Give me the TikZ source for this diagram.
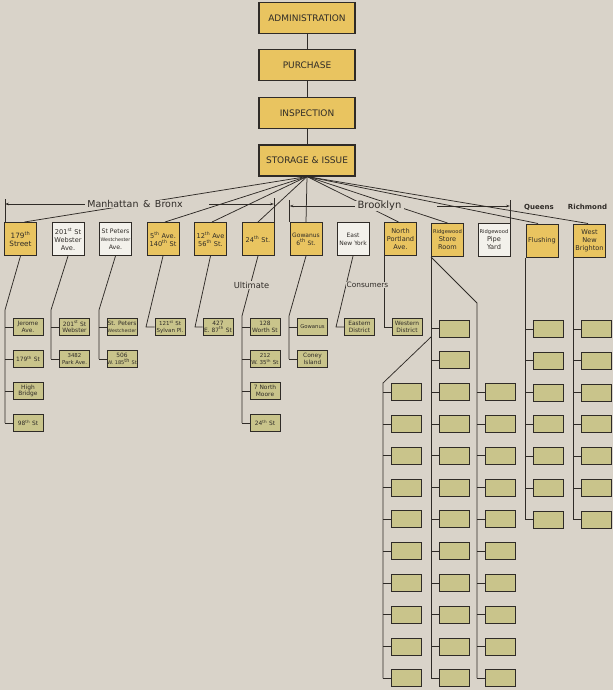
\documentclass[tikz,border=0pt]{standalone}
\usepackage{fontspec}
\setmainfont{DejaVu Sans}
\usetikzlibrary{arrows.meta,calc}
\definecolor{paper}{HTML}{D9D3C9}
\definecolor{ybox}{HTML}{E9C460}
\definecolor{kbox}{HTML}{C9C48B}
\definecolor{wbox}{HTML}{F3F1EB}
\definecolor{ink}{HTML}{2F2B27}
\pgfdeclarelayer{paperlayer}
\pgfdeclarelayer{linelayer}
\pgfsetlayers{paperlayer,linelayer,main}
\tikzset{
  topbox/.style={draw=ink, line width=1.1pt, fill=ybox, minimum width=96pt, minimum height=31pt, inner sep=0pt, text=ink, font=\fontsize{9}{10}\selectfont},
  rowbox/.style={draw=ink, line width=1pt, minimum width=32pt, minimum height=33pt, inner sep=0pt, align=center, text=ink, font=\fontsize{6.6}{8}\selectfont},
  yrow/.style={rowbox, fill=ybox},
  wrow/.style={rowbox, fill=wbox},
  subbox/.style={draw=ink, line width=1pt, fill=kbox, minimum width=30pt, minimum height=17pt, inner sep=0pt, align=center, text=ink, font=\fontsize{5.9}{6.6}\selectfont},
  blankbox/.style={subbox},
  conn/.style={draw=ink, line width=0.75pt},
  arr/.style={-{Stealth[length=4pt,width=2.6pt]}},
  dimlbl/.style={fill=paper, inner xsep=2.5pt, inner ysep=0.5pt, text=ink, font=\fontsize{9.5}{10}\selectfont},
  grplbl/.style={fill=paper, inner xsep=1pt, inner ysep=0.5pt, text=ink, font=\fontsize{8}{9}\selectfont},
  regionlbl/.style={inner sep=0.5pt, text=ink, font=\fontsize{7}{8}\selectfont\bfseries},
}
\begin{document}
\begin{tikzpicture}[x=1pt,y=-1pt]
\useasboundingbox (0,0) rectangle (613,690);
\begin{pgfonlayer}{paperlayer}
\fill[paper] (0,0) rectangle (613,690);
\end{pgfonlayer}

% top chain
\node[topbox] (adm) at (307,18) {ADMINISTRATION};
\node[topbox] (pur) at (307,65) {PURCHASE};
\node[topbox] (ins) at (307,113) {INSPECTION};
\node[topbox] (sto) at (307,160.5) {STORAGE \& ISSUE};

% row of storehouses
\node[yrow, font=\fontsize{7.3}{8.5}\selectfont] (r1) at (20.5,239) {179\textsuperscript{th}\\Street};
\node[wrow] (r2) at (68,239) {201\textsuperscript{st} St\\Webster\\Ave.};
\node[wrow, font=\fontsize{6.2}{8}\selectfont] (r3) at (115.5,239) {St Peters\\{\fontsize{4.8}{8}\selectfont Westchester}\\Ave.};
\node[yrow] (r4) at (163,239) {5\textsuperscript{th} Ave.\\140\textsuperscript{th} St};
\node[yrow] (r5) at (210.5,239) {12\textsuperscript{th} Ave\\56\textsuperscript{th} St.};
\node[yrow] (r6) at (258,239) {24\textsuperscript{th} St.};
\node[yrow, font=\fontsize{6}{8}\selectfont] (r7) at (306,239) {Gowanus\\6\textsuperscript{th} St.};
\node[wrow, font=\fontsize{6}{8}\selectfont] (r8) at (353,239) {East\\New York};
\node[yrow] (r9) at (400.5,239) {North\\Portland\\Ave.};
\node[yrow] (r10) at (447.5,240) {{\fontsize{5.2}{8}\selectfont Ridgewood}\\Store\\Room};
\node[wrow] (r11) at (494,240) {{\fontsize{5.2}{8}\selectfont Ridgewood}\\Pipe\\Yard};
\node[yrow] (r12) at (542,240.5) {Flushing};
\node[yrow] (r13) at (589.5,240.5) {West\\New\\Brighton};

% named sub-stores
\node[subbox] (a1) at (28,327) {Jerome\\Ave.};
\node[subbox] (a2) at (28,359) {179\textsuperscript{th} St};
\node[subbox] (a3) at (28,391) {High\\Bridge};
\node[subbox] (a4) at (28,423) {98\textsuperscript{th} St};
\node[subbox] (b1) at (74.5,327) {201\textsuperscript{st} St\\Webster};
\node[subbox, font=\fontsize{5.4}{6.6}\selectfont] (b2) at (74.5,359) {3482\\Park Ave.};
\node[subbox] (c1) at (122,327) {St. Peters\\{\fontsize{4.6}{6.6}\selectfont Westchester}};
\node[subbox] (c2) at (122,359) {506\\{\fontsize{5}{6.6}\selectfont W. 185\textsuperscript{th} St}};
\node[subbox, font=\fontsize{5.5}{6.6}\selectfont] (d1) at (170,327) {121\textsuperscript{st} St\\Sylvan Pl.};
\node[subbox] (e1) at (218,327) {427\\E. 87\textsuperscript{th} St};
\node[subbox] (f1) at (265,327) {128\\Worth St};
\node[subbox, font=\fontsize{5.5}{6.6}\selectfont] (f2) at (265,359) {212\\W. 35\textsuperscript{th} St};
\node[subbox] (f3) at (265,391) {7 North\\Moore};
\node[subbox] (f4) at (265,423) {24\textsuperscript{th} St};
\node[subbox, font=\fontsize{5.3}{6.6}\selectfont] (g1) at (312.5,327) {Gowanus};
\node[subbox] (g2) at (312.5,359) {Coney\\Island};
\node[subbox] (h1) at (359.5,327) {Eastern\\District};
\node[subbox] (i1) at (407,327) {Western\\District};

% blank sub-stores
\foreach \k in {0,...,11} \node[blankbox] (ta\k) at (454,{328.5+31.8*\k}) {};
\foreach \k in {2,...,11} \node[blankbox] (tc\k) at (406,{328.5+31.8*\k}) {};
\foreach \k in {2,...,11} \node[blankbox] (tb\k) at (500,{328.5+31.8*\k}) {};
\foreach \k in {0,...,6} \node[blankbox] (tk\k) at (548,{329+31.8*\k}) {};
\foreach \k in {0,...,6} \node[blankbox] (tl\k) at (596,{329+31.8*\k}) {};

% labels
\node[dimlbl] (lMB) at (135,204) {Manhattan \hspace{1.5pt}\&\hspace{1.5pt} Bronx};
\node[dimlbl, font=\fontsize{10}{11}\selectfont] (lBK) at (379.5,206) {Brooklyn};
\node[regionlbl] (lQN) at (539,207) {Queens};
\node[regionlbl] (lRC) at (587.5,207) {Richmond};
\node[grplbl, font=\fontsize{8.3}{9}\selectfont] (lUL) at (251.5,285) {Ultimate};
\node[grplbl, font=\fontsize{7.4}{9}\selectfont] (lCS) at (367.5,285) {Consumers};

\begin{pgfonlayer}{linelayer}
% chain
\draw[conn] (adm.south) -- (pur.north);
\draw[conn] (pur.south) -- (ins.north);
\draw[conn] (ins.south) -- (sto.north);
% fan
\foreach \n/\d in {r1/4,r4/2,r5/1.5,r6/0,r7/0,r9/-2,r10/0,r12/-4,r13/-1.5}
  \draw[conn] (sto.south) -- ($(\n.north)+(\d,0)$);
% dimension marks
\coordinate (tMB1) at (5,199);
\draw[conn] (tMB1) -- (tMB1 |- r1.north);
\draw[conn,arr] (lMB.west) -- (lMB.west -| tMB1);
\coordinate (sMB2) at (209,204);
\coordinate (tMB2) at (274,198);
\draw[conn] (tMB2) -- (tMB2 |- r6.north);
\draw[conn,arr] (sMB2) -- (sMB2 -| tMB2);
\coordinate (tBK1) at (289.5,200);
\draw[conn] (tBK1) -- (tBK1 |- r7.north);
\draw[conn,arr] (lBK.west) -- (lBK.west -| tBK1);
\coordinate (sBK2) at (437,206);
\coordinate (tBK2) at (510,200);
\draw[conn] (tBK2) -- (tBK2 |- r11.north);
\draw[conn,arr] (sBK2) -- (sBK2 -| tBK2);
% A
\coordinate (kA) at (5,310);
\draw[conn] (r1.south) -- (kA) -- (kA |- a4.west);
\foreach \i in {1,...,4} \draw[conn] (kA |- a\i.west) -- (a\i.west);
% B
\coordinate (kB) at (51,310);
\draw[conn] (r2.south) -- (kB) -- (kB |- b2.west);
\foreach \i in {1,2} \draw[conn] (kB |- b\i.west) -- (b\i.west);
% C
\coordinate (kC) at (99,310);
\draw[conn] (r3.south) -- (kC) -- (kC |- c2.west);
\foreach \i in {1,2} \draw[conn] (kC |- c\i.west) -- (c\i.west);
% D, E, H corners
\coordinate (kD) at (146,327);
\draw[conn] (r4.south) -- (kD) -- (d1.west);
\coordinate (kE) at (195,327);
\draw[conn] (r5.south) -- (kE) -- (e1.west);
\coordinate (kH) at (336,327);
\draw[conn] (r8.south) -- (kH) -- (h1.west);
% F
\coordinate (kF) at (242,316);
\draw[conn] (r6.south) -- (kF) -- (kF |- f4.west);
\foreach \i in {1,...,4} \draw[conn] (kF |- f\i.west) -- (f\i.west);
% G
\coordinate (kG) at (289,316);
\draw[conn] (r7.south) -- (kG) -- (kG |- g2.west);
\foreach \i in {1,2} \draw[conn] (kG |- g\i.west) -- (g\i.west);
% I
\draw[conn] (r9.south west) -- (r9.south west |- i1.west) -- (i1.west);
% Ridgewood store room trunks
\draw[conn] (r10.south west) -- (r10.south west |- ta11.west);
\foreach \k in {0,...,11} \draw[conn] (r10.south west |- ta\k.west) -- (ta\k.west);
\coordinate (kT2) at (477,303);
\draw[conn] (r10.south west) -- (kT2) -- (kT2 |- tb11.west);
\foreach \k in {2,...,11} \draw[conn] (kT2 |- tb\k.west) -- (tb\k.west);
\coordinate (kT3a) at ($(r10.south west)+(0,80)$);
\coordinate (kT3) at (383,383);
\draw[conn] (kT3a) -- (kT3) -- (kT3 |- tc11.west);
\foreach \k in {2,...,11} \draw[conn] (kT3 |- tc\k.west) -- (tc\k.west);
% Flushing, West New Brighton
\draw[conn] (r12.south west) -- (r12.south west |- tk6.west);
\foreach \k in {0,...,6} \draw[conn] (r12.south west |- tk\k.west) -- (tk\k.west);
\draw[conn] (r13.south west) -- (r13.south west |- tl6.west);
\foreach \k in {0,...,6} \draw[conn] (r13.south west |- tl\k.west) -- (tl\k.west);
\end{pgfonlayer}
\end{tikzpicture}
\end{document}
